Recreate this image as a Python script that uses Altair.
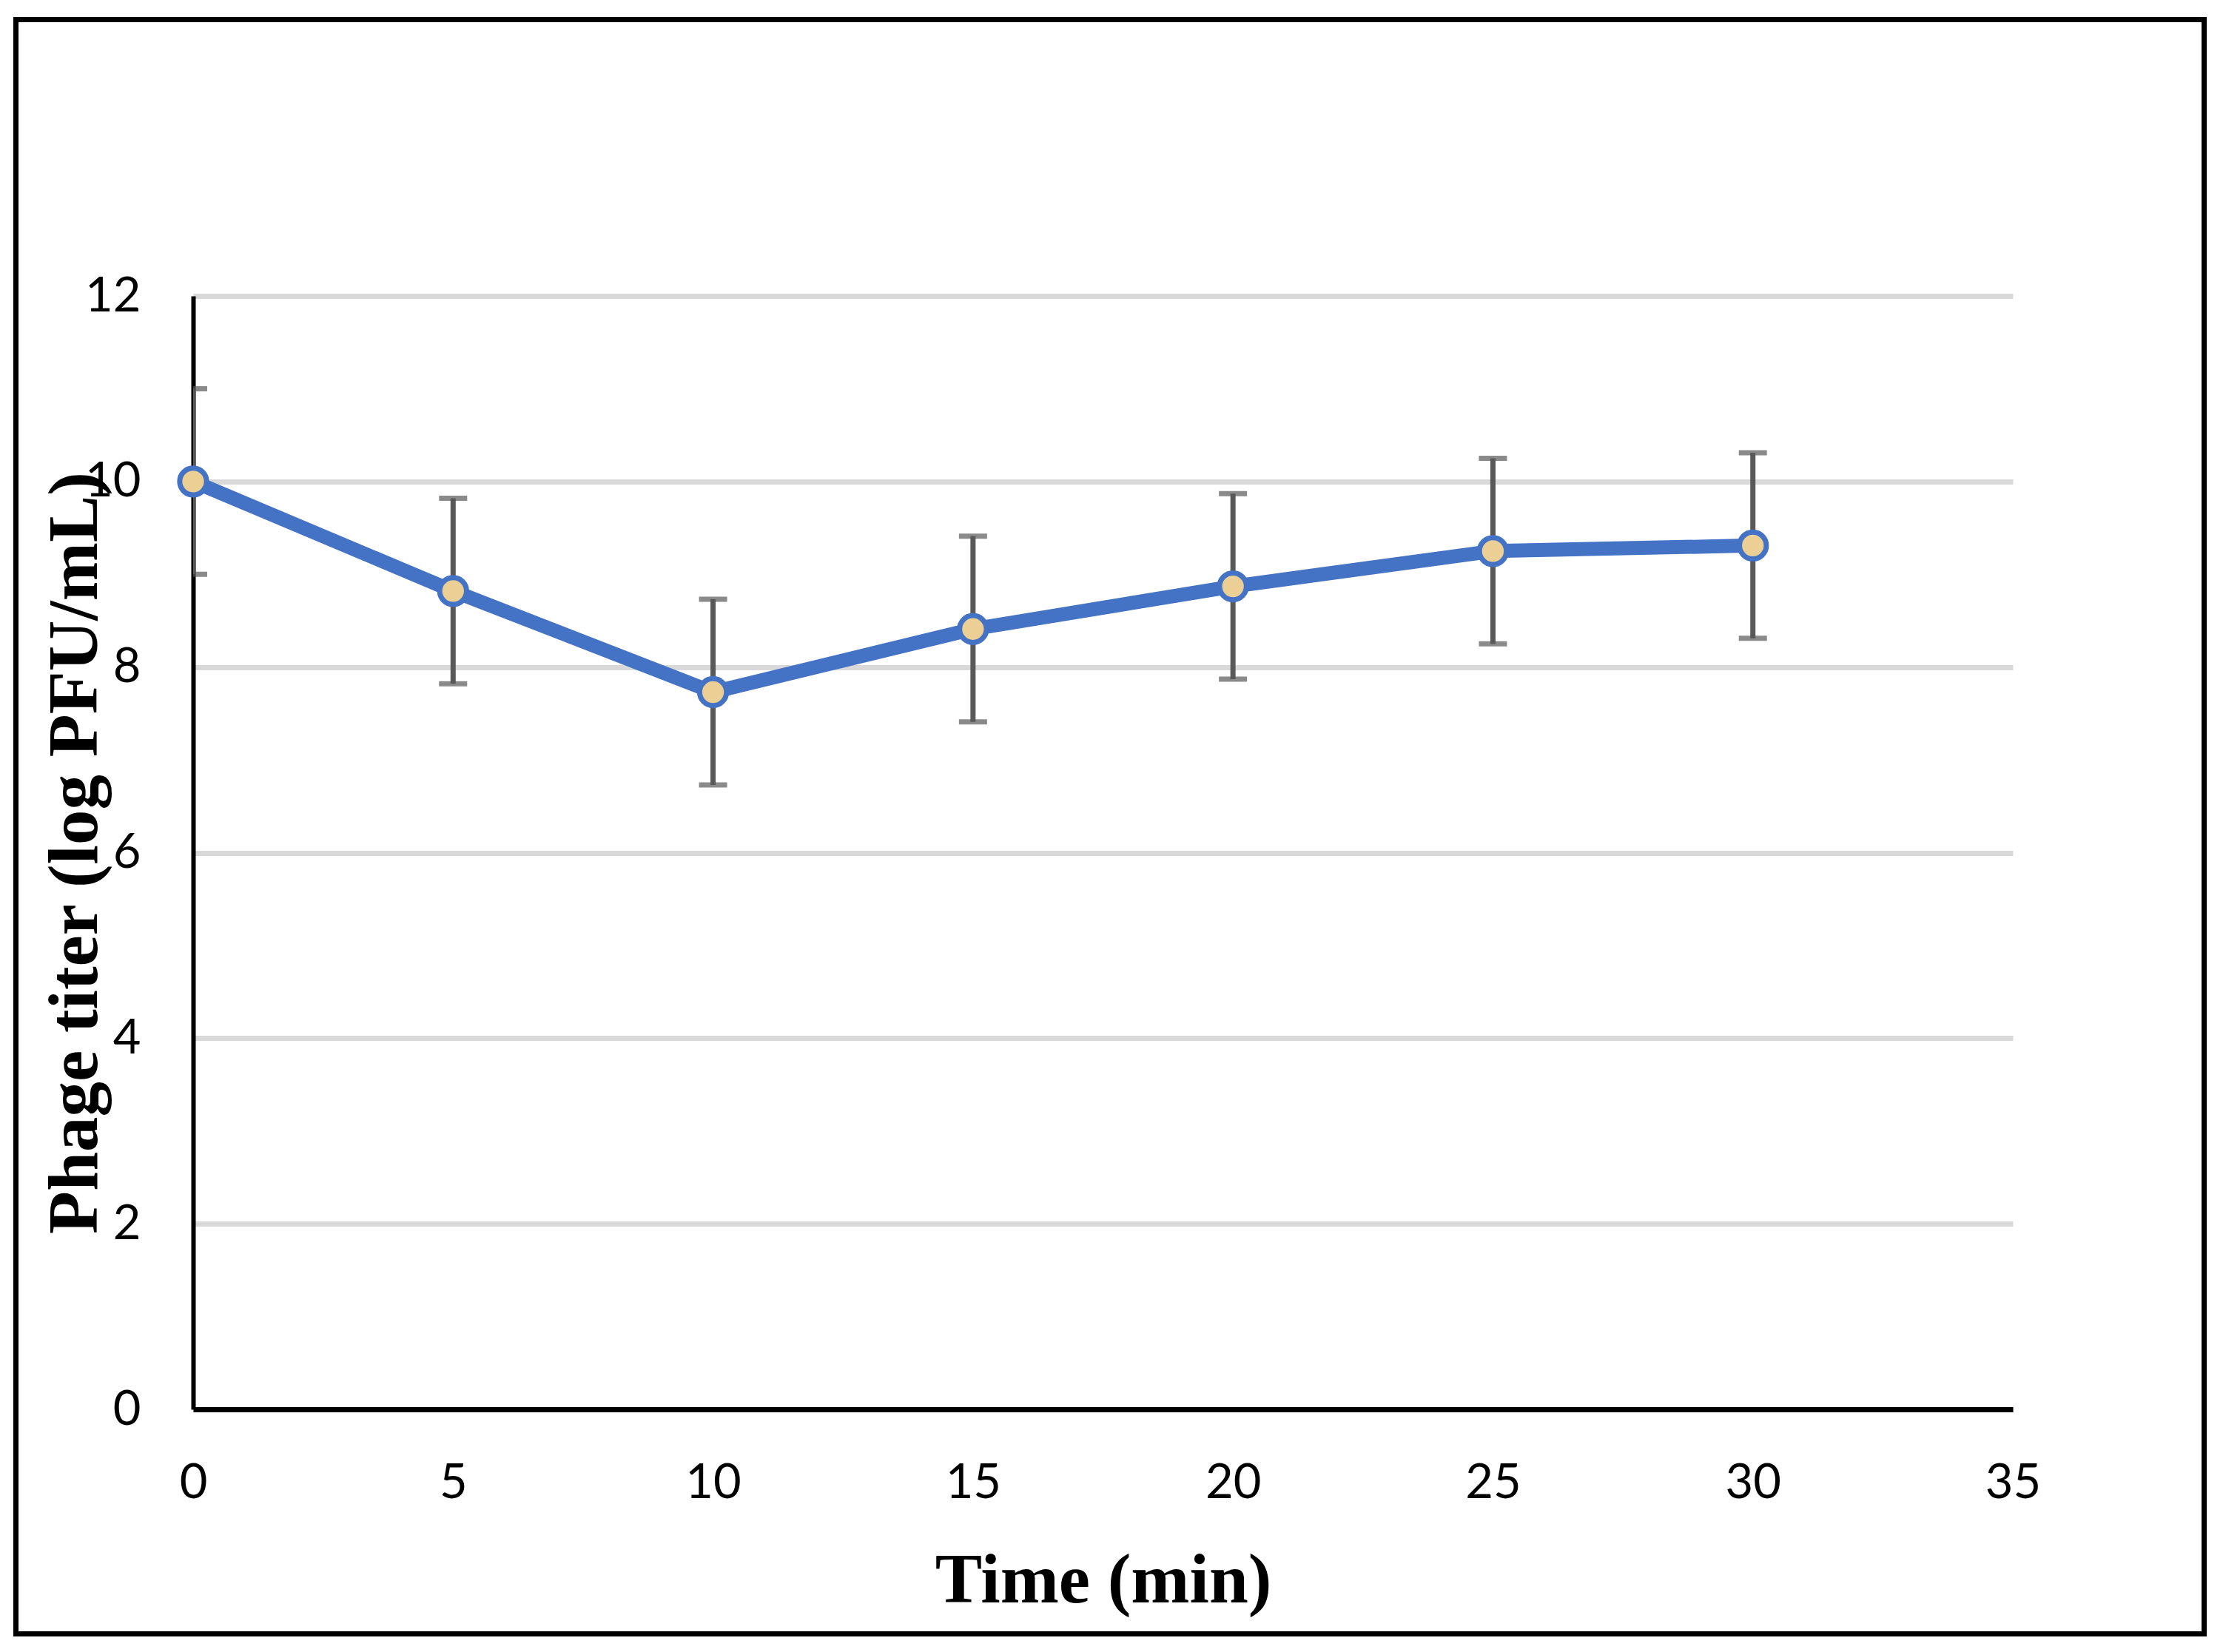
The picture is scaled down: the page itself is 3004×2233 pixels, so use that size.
import altair as alt
import pandas as pd

# ---- data ----
time_min = [0, 5, 10, 15, 20, 25, 30]
phage_titer = [10.0, 8.82, 7.73, 8.41, 8.87, 9.25, 9.31]
error = [1.0, 1.0, 1.0, 1.0, 1.0, 1.0, 1.0]
x_ticks = [0, 5, 10, 15, 20, 25, 30, 35]
y_ticks = [0, 2, 4, 6, 8, 10, 12]

df = pd.DataFrame({"t": time_min, "v": phage_titer, "e": error})
df["lo"] = df["v"] - df["e"]
df["hi"] = df["v"] + df["e"]

W, H = 2459, 1505
BLUE = "#4472C4"
ERR = "#595959"

x_enc = alt.X(
    "t:Q",
    scale=alt.Scale(domain=[0, 35], nice=False, zero=False),
    axis=alt.Axis(
        values=x_ticks, format="d", title="Time (min)", grid=False, ticks=False,
        domainColor="black", domainWidth=7,
        labelFont="Lato", labelFontSize=65, labelColor="black",
        labelPadding=68, labelFlush=False, labelBaseline="top",
        titleFont="Liberation Serif", titleFontWeight="bold", titleFontSize=95,
        titleColor="black", titleX=W / 2, titleY=260,
        titleBaseline="alphabetic", titleAlign="center",
    ),
)
y_enc = alt.Y(
    "v:Q",
    scale=alt.Scale(domain=[0, 12], nice=False, zero=False),
    axis=alt.Axis(
        values=y_ticks, format="d", title="Phage titer (log PFU/mL)", grid=True,
        gridColor="#D9D9D9", gridWidth=7, ticks=False,
        domainColor="black", domainWidth=6,
        labelFont="Lato", labelFontSize=65, labelColor="black",
        labelPadding=71, labelFlush=False, labelBaseline="middle",
        titleFont="Liberation Serif", titleFontWeight="bold", titleFontSize=95,
        titleColor="black", titleX=-131, titleY=H / 2, titleAngle=270,
        titleBaseline="alphabetic", titleAlign="center",
    ),
)

base = alt.Chart(df)

rules = base.mark_rule(color=ERR, strokeWidth=7, clip=True).encode(
    x=x_enc, y=alt.Y("lo:Q"), y2="hi:Q"
)
caps_hi = base.mark_tick(color=ERR, thickness=7, size=38, orient="horizontal", clip=True).encode(
    x=x_enc, y=alt.Y("hi:Q")
)
caps_lo = base.mark_tick(color=ERR, thickness=7, size=38, orient="horizontal", clip=True).encode(
    x=x_enc, y=alt.Y("lo:Q")
)
line = base.mark_line(color=BLUE, strokeWidth=19).encode(x=x_enc, y=y_enc)
points = base.mark_point(
    shape="circle", filled=True, fill="#EBCF95", stroke=BLUE, strokeWidth=7,
    size=1320, opacity=1, fillOpacity=1, strokeOpacity=1,
).encode(x=x_enc, y=y_enc)

frame = alt.Chart(alt.Data(values=[{"a": 1}])).mark_rect(
    fillOpacity=0, stroke="black", strokeWidth=7
).encode(
    x=alt.value(-239.5), x2=alt.value(2717.5),
    y=alt.value(-373.5), y2=alt.value(1808.5),
)

chart = alt.layer(points, line, rules, caps_hi, caps_lo, frame)
chart = alt.layer(rules, caps_hi, caps_lo, line, points, frame).properties(
    width=W, height=H,
    padding={"left": 253, "top": 392, "right": 270, "bottom": 315},
    autosize=alt.AutoSizeParams(type="none"),
    background="white",
).configure_view(strokeWidth=0)

chart.save("out.html", embed_options={"renderer": "svg", "actions": False})
